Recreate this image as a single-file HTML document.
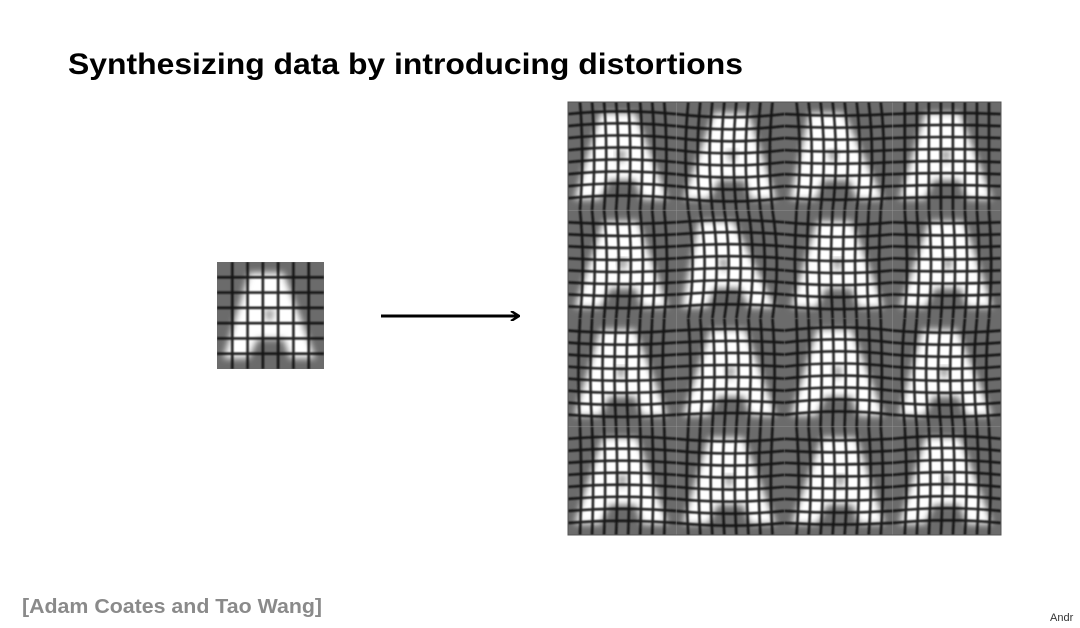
<!DOCTYPE html>
<html><head><meta charset="utf-8"><style>
html,body{margin:0;padding:0;background:#fff;width:1080px;height:628px;overflow:hidden}
svg{display:block}
</style></head><body>
<svg id="s" width="1080" height="628" viewBox="0 0 1080 628" xmlns="http://www.w3.org/2000/svg">
<defs>
<filter id="bl" x="-20%" y="-20%" width="140%" height="140%"><feGaussianBlur stdDeviation="3.5"/></filter>
<filter id="bl2"><feGaussianBlur stdDeviation="0.7"/></filter>
<marker id="ah" markerWidth="10" markerHeight="10" refX="8" refY="5" orient="auto" markerUnits="userSpaceOnUse"><path d="M1,0 L9,5 L1,10" fill="none" stroke="#000" stroke-width="2.5"/></marker>
</defs>
<text x="68" y="74" font-family="'Liberation Sans',sans-serif" font-weight="bold" font-size="30" textLength="675" lengthAdjust="spacingAndGlyphs" fill="#000">Synthesizing data by introducing distortions</text>
<g id="small"></g>
<line x1="381" y1="316" x2="518" y2="316" stroke="#000" stroke-width="3" marker-end="url(#ah)"/>
<g id="big"></g>
<text x="22" y="613" font-family="'Liberation Sans',sans-serif" font-weight="bold" font-size="20" textLength="300" lengthAdjust="spacingAndGlyphs" fill="#8a8a8a">[Adam Coates and Tao Wang]</text>
<text x="1050" y="621" font-family="'Liberation Sans',sans-serif" font-size="11" fill="#333">Andr</text>
</svg>
<script>
const NS='http://www.w3.org/2000/svg';
function el(t,a,p){const e=document.createElementNS(NS,t);for(const k in a)e.setAttribute(k,a[k]);p.appendChild(e);return e;}
function tile(parent,x,y,s,n,sk,wx,wy,idx){
  const g=el('g',{},parent);
  
  
  el('rect',{x:x,y:y,width:s,height:s,fill:'#6b6b6b'},g);
  const cp=el('clipPath',{id:'c'+idx},g);
  el('rect',{x:x,y:y,width:s,height:s},cp);
  const inner=el('g',{'clip-path':'url(#c'+idx+')'},g);
  const P=(u,v)=>[x+s*(u+sk*(1-v)),y+s*v];
  const pts=[P(.3,.1),P(.62,.1),P(.92,.9),P(.68,.9),P(.62,.72),P(.38,.72),P(.3,.9),P(.06,.9)];
  el('polygon',{points:pts.map(p=>p.join(',')).join(' '),fill:'#fff',filter:'url(#bl)'},inner);
  const h=[P(.44,.45),P(.54,.45),P(.49,.58)];
  el('polygon',{points:h.map(p=>p.join(',')).join(' '),fill:'#888',filter:'url(#bl)'},inner);
  const gl=el('g',{stroke:'#111',fill:'none','stroke-width':s>100?2.6:2.8,opacity:.9,filter:'url(#bl2)'},inner);
  for(let i=1;i<n;i++){
    const t=s*i/n;
    el('path',{d:`M${x+t},${y} Q${x+t+wx*s},${y+s/2} ${x+t},${y+s}`},gl);
    el('path',{d:`M${x},${y+t} Q${x+s/2},${y+t+wy*s} ${x+s},${y+t}`},gl);
  }
}
tile(document.getElementById('small'),217,262,107,7,0,0,0,'o');
const sk=[[0,0.05,-0.08,0],[0.03,-0.1,0,0.04],[0,0.02,0,-0.03],[0.02,0,0.05,0]];
const wx=[[0.04,-0.05,0.06,0],[0.05,0.08,-0.03,0.04],[-0.03,0.04,0.02,-0.05],[0.02,-0.03,0.04,0.03]];
const wy=[[-0.05,0.06,0.03,-0.02],[0.03,-0.04,0.05,0.02],[0.04,-0.03,-0.06,0.04],[-0.04,0.05,0.03,-0.05]];
const big=document.getElementById('big');
const S=433/4;
for(let r=0;r<4;r++)for(let c=0;c<4;c++){
  tile(big,568+c*S,102+r*S,S,9,sk[r][c],wx[r][c],wy[r][c],r*4+c);
}
el('rect',{x:568,y:102,width:433,height:433,fill:'none',stroke:'#555','stroke-width':1},big);
</script>
</body></html>
